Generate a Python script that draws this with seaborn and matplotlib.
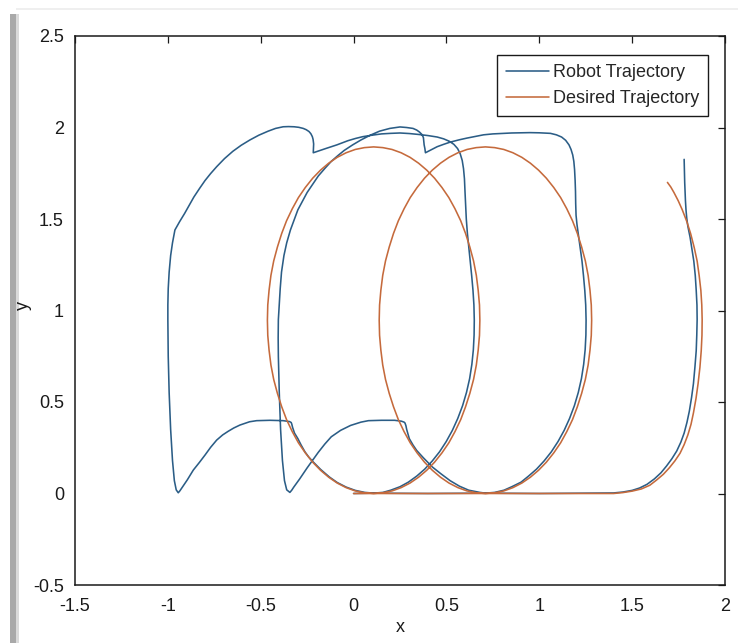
import matplotlib
matplotlib.use("Agg")
import matplotlib.pyplot as plt
import seaborn as sns
import pandas as pd
from matplotlib.patches import Rectangle

# ---------------- data ----------------
series_names = ["Robot Trajectory", "Desired Trajectory"]
series_colors = ["#2b5d86", "#c56a3c"]
x_ticks = [-1.5, -1, -0.5, 0, 0.5, 1, 1.5, 2]
x_tick_labels = ["-1.5", "-1", "-0.5", "0", "0.5", "1", "1.5", "2"]
y_ticks = [-0.5, 0, 0.5, 1, 1.5, 2, 2.5]
y_tick_labels = ["-0.5", "0", "0.5", "1", "1.5", "2", "2.5"]

# desired trajectory: loop 1, loop 2, final rising arc
desired_loop1 = [
    (0.0, 0.0), (0.108, 0.0), (0.158, 0.004), (0.207, 0.014), (0.256, 0.032), (0.304, 0.057),
    (0.350, 0.089), (0.394, 0.127), (0.436, 0.171), (0.476, 0.222), (0.513, 0.277),
    (0.546, 0.338), (0.577, 0.404), (0.603, 0.474), (0.626, 0.547), (0.646, 0.623),
    (0.661, 0.702), (0.671, 0.783), (0.678, 0.864), (0.680, 0.947), (0.678, 1.030),
    (0.671, 1.111), (0.661, 1.192), (0.646, 1.271), (0.626, 1.347), (0.603, 1.421),
    (0.577, 1.490), (0.546, 1.556), (0.513, 1.617), (0.476, 1.672), (0.436, 1.723),
    (0.394, 1.767), (0.350, 1.805), (0.304, 1.837), (0.256, 1.862), (0.207, 1.880),
    (0.158, 1.890), (0.108, 1.894), (0.058, 1.890), (0.009, 1.880), (-0.040, 1.862),
    (-0.088, 1.837), (-0.134, 1.805), (-0.178, 1.767), (-0.220, 1.723), (-0.260, 1.672),
    (-0.297, 1.617), (-0.330, 1.556), (-0.361, 1.490), (-0.387, 1.421), (-0.410, 1.347),
    (-0.430, 1.271), (-0.445, 1.192), (-0.455, 1.111), (-0.462, 1.030), (-0.464, 0.947),
    (-0.462, 0.864), (-0.455, 0.783), (-0.445, 0.702), (-0.430, 0.623), (-0.410, 0.547),
    (-0.387, 0.474), (-0.361, 0.404), (-0.330, 0.338), (-0.297, 0.277), (-0.260, 0.222),
    (-0.220, 0.171), (-0.178, 0.127), (-0.134, 0.089), (-0.088, 0.057), (-0.040, 0.032),
    (0.009, 0.014), (0.058, 0.004), (0.108, 0.0)]
desired_loop2 = [
    (0.40, 0.0), (0.710, 0.0), (0.760, 0.004), (0.809, 0.014), (0.858, 0.032), (0.906, 0.057),
    (0.952, 0.089), (0.996, 0.127), (1.038, 0.171), (1.078, 0.222), (1.115, 0.277),
    (1.148, 0.338), (1.179, 0.404), (1.205, 0.474), (1.228, 0.547), (1.248, 0.623),
    (1.263, 0.702), (1.273, 0.783), (1.280, 0.864), (1.282, 0.947), (1.280, 1.030),
    (1.273, 1.111), (1.263, 1.192), (1.248, 1.271), (1.228, 1.347), (1.205, 1.421),
    (1.179, 1.490), (1.148, 1.556), (1.115, 1.617), (1.078, 1.672), (1.038, 1.723),
    (0.996, 1.767), (0.952, 1.805), (0.906, 1.837), (0.858, 1.862), (0.809, 1.880),
    (0.760, 1.890), (0.710, 1.894), (0.660, 1.890), (0.611, 1.880), (0.562, 1.862),
    (0.514, 1.837), (0.468, 1.805), (0.424, 1.767), (0.382, 1.723), (0.342, 1.672),
    (0.305, 1.617), (0.272, 1.556), (0.241, 1.490), (0.215, 1.421), (0.192, 1.347),
    (0.172, 1.271), (0.157, 1.192), (0.147, 1.111), (0.140, 1.030), (0.138, 0.947),
    (0.140, 0.864), (0.147, 0.783), (0.157, 0.702), (0.172, 0.623), (0.192, 0.547),
    (0.215, 0.474), (0.241, 0.404), (0.272, 0.338), (0.305, 0.277), (0.342, 0.222),
    (0.382, 0.171), (0.424, 0.127), (0.468, 0.089), (0.514, 0.057), (0.562, 0.032),
    (0.611, 0.014), (0.660, 0.004), (0.710, 0.0)]
desired_loop3 = [
    (1.05, 0.0), (1.40, 0.0), (1.45, 0.005), (1.50, 0.013), (1.55, 0.025), (1.595, 0.045),
    (1.632, 0.074), (1.668, 0.105), (1.70, 0.14), (1.73, 0.178), (1.758, 0.22), (1.78, 0.267),
    (1.80, 0.32), (1.817, 0.378), (1.83, 0.44), (1.844, 0.52), (1.855, 0.60), (1.865, 0.69),
    (1.872, 0.78), (1.876, 0.865), (1.877, 0.95), (1.875, 1.03), (1.87, 1.11), (1.861, 1.19),
    (1.85, 1.27), (1.834, 1.345), (1.815, 1.42), (1.794, 1.487), (1.77, 1.55), (1.748, 1.60),
    (1.725, 1.645), (1.708, 1.675), (1.69, 1.70)]

# robot trajectory, in travel order
robot_loop1 = [
    (0.0, 0.0), (0.108, 0.002), (0.158, 0.006), (0.20, 0.018), (0.25, 0.037), (0.295, 0.062),
    (0.34, 0.095), (0.383, 0.133), (0.424, 0.178), (0.463, 0.228), (0.499, 0.284),
    (0.532, 0.345), (0.561, 0.41), (0.587, 0.48), (0.608, 0.552), (0.625, 0.628),
    (0.637, 0.706), (0.645, 0.786), (0.649, 0.866), (0.65, 0.947), (0.648, 1.03),
    (0.643, 1.11), (0.636, 1.19), (0.628, 1.27), (0.62, 1.345), (0.613, 1.42), (0.607, 1.50),
    (0.603, 1.58), (0.60, 1.65), (0.597, 1.72), (0.592, 1.775), (0.585, 1.82), (0.574, 1.857),
    (0.56, 1.885), (0.54, 1.908), (0.515, 1.925), (0.485, 1.938), (0.45, 1.948), (0.40, 1.956),
    (0.35, 1.962), (0.30, 1.967), (0.25, 1.97), (0.20, 1.968), (0.15, 1.965), (0.10, 1.958),
    (0.05, 1.95), (0.01, 1.94), (-0.03, 1.928), (-0.09, 1.905), (-0.15, 1.885), (-0.217, 1.862)]
robot_overshoot1 = [
    (-0.215, 1.91), (-0.218, 1.935), (-0.222, 1.95), (-0.23, 1.966), (-0.24, 1.978),
    (-0.255, 1.988), (-0.271, 1.995), (-0.295, 2.001), (-0.32, 2.004), (-0.35, 2.005),
    (-0.379, 2.004), (-0.42, 1.995), (-0.46, 1.98), (-0.51, 1.958), (-0.558, 1.932),
    (-0.605, 1.903), (-0.65, 1.87), (-0.695, 1.83), (-0.737, 1.786), (-0.77, 1.748),
    (-0.80, 1.71), (-0.83, 1.666), (-0.86, 1.62), (-0.885, 1.575), (-0.91, 1.53),
    (-0.937, 1.485), (-0.962, 1.44), (-0.975, 1.37), (-0.985, 1.30), (-0.993, 1.21),
    (-0.998, 1.12), (-1.0, 1.03), (-1.0, 0.95), (-0.999, 0.85), (-0.998, 0.75), (-0.993, 0.55),
    (-0.985, 0.35), (-0.975, 0.18), (-0.965, 0.07), (-0.955, 0.02), (-0.944, 0.004)]
robot_return1 = [
    (-0.935, 0.015), (-0.925, 0.03), (-0.895, 0.075), (-0.863, 0.128), (-0.83, 0.17),
    (-0.80, 0.21), (-0.77, 0.252), (-0.737, 0.292), (-0.705, 0.32), (-0.675, 0.34),
    (-0.645, 0.358), (-0.612, 0.374), (-0.56, 0.392), (-0.522, 0.398), (-0.45, 0.40),
    (-0.379, 0.398), (-0.345, 0.393), (-0.336, 0.388), (-0.333, 0.38), (-0.328, 0.36),
    (-0.318, 0.33), (-0.30, 0.30), (-0.282, 0.264), (-0.262, 0.228), (-0.242, 0.2),
    (-0.22, 0.175), (-0.178, 0.132), (-0.13, 0.09), (-0.088, 0.06), (-0.04, 0.035),
    (0.009, 0.017), (0.06, 0.006), (0.108, 0.002), (0.40, 0.0), (0.71, 0.002)]
robot_loop2 = [
    (0.76, 0.006), (0.81, 0.018), (0.852, 0.037), (0.902, 0.062), (0.942, 0.095),
    (0.985, 0.133), (1.026, 0.178), (1.065, 0.228), (1.101, 0.284), (1.134, 0.345),
    (1.163, 0.41), (1.189, 0.48), (1.21, 0.552), (1.227, 0.628), (1.239, 0.706),
    (1.247, 0.786), (1.251, 0.866), (1.252, 0.947), (1.25, 1.03), (1.245, 1.11),
    (1.238, 1.19), (1.23, 1.27), (1.22, 1.345), (1.21, 1.42), (1.203, 1.47), (1.198, 1.52),
    (1.196, 1.585), (1.195, 1.65), (1.193, 1.71), (1.19, 1.77), (1.186, 1.815), (1.18, 1.85),
    (1.171, 1.88), (1.16, 1.905), (1.142, 1.93), (1.12, 1.948), (1.092, 1.96), (1.06, 1.968),
    (1.0, 1.971), (0.95, 1.972), (0.85, 1.97), (0.75, 1.965), (0.70, 1.96), (0.65, 1.95),
    (0.61, 1.942), (0.57, 1.933), (0.52, 1.92), (0.485, 1.908), (0.45, 1.895), (0.387, 1.862)]
robot_overshoot2 = [
    (0.384, 1.885), (0.38, 1.905), (0.378, 1.925), (0.376, 1.945), (0.368, 1.962),
    (0.355, 1.975), (0.34, 1.986), (0.32, 1.995), (0.285, 2.0), (0.25, 2.003), (0.195, 1.995),
    (0.14, 1.98), (0.09, 1.958), (0.04, 1.932), (-0.005, 1.905), (-0.05, 1.875),
    (-0.085, 1.846), (-0.12, 1.815), (-0.155, 1.776), (-0.19, 1.735), (-0.22, 1.69),
    (-0.25, 1.645), (-0.275, 1.598), (-0.30, 1.55), (-0.32, 1.495), (-0.34, 1.44),
    (-0.36, 1.37), (-0.375, 1.30), (-0.388, 1.21), (-0.395, 1.12), (-0.40, 1.03),
    (-0.405, 0.95), (-0.406, 0.85), (-0.405, 0.75), (-0.40, 0.55), (-0.393, 0.35),
    (-0.383, 0.18), (-0.372, 0.07), (-0.36, 0.02), (-0.343, 0.006)]
robot_return2 = [
    (-0.333, 0.018), (-0.322, 0.035), (-0.29, 0.08), (-0.25, 0.14), (-0.22, 0.183),
    (-0.19, 0.225), (-0.155, 0.27), (-0.12, 0.31), (-0.07, 0.345), (-0.016, 0.372),
    (0.04, 0.39), (0.08, 0.398), (0.15, 0.40), (0.221, 0.40), (0.258, 0.395), (0.272, 0.39),
    (0.277, 0.385), (0.282, 0.37), (0.286, 0.35), (0.293, 0.325), (0.30, 0.30), (0.32, 0.265),
    (0.34, 0.235), (0.376, 0.195), (0.40, 0.17), (0.424, 0.145), (0.47, 0.108), (0.52, 0.07),
    (0.57, 0.04), (0.62, 0.018), (0.68, 0.006), (0.71, 0.002), (1.0, 0.0), (1.40, 0.003)]
robot_loop3 = [
    (1.45, 0.008), (1.50, 0.017), (1.54, 0.03), (1.58, 0.05), (1.62, 0.08), (1.655, 0.113),
    (1.685, 0.15), (1.714, 0.19), (1.74, 0.232), (1.762, 0.28), (1.78, 0.33), (1.795, 0.388),
    (1.808, 0.45), (1.82, 0.525), (1.83, 0.60), (1.838, 0.69), (1.845, 0.78), (1.848, 0.865),
    (1.85, 0.95), (1.849, 1.03), (1.845, 1.11), (1.84, 1.19), (1.832, 1.27), (1.822, 1.335),
    (1.812, 1.40), (1.80, 1.46), (1.794, 1.505), (1.79, 1.55), (1.787, 1.60), (1.785, 1.65),
    (1.783, 1.70), (1.782, 1.74), (1.78, 1.826)]

# ---------------- build table ----------------
robot_pts = (robot_loop1 + robot_overshoot1 + robot_return1 + robot_loop2
             + robot_overshoot2 + robot_return2 + robot_loop3)
desired_pts = desired_loop1 + desired_loop2 + desired_loop3
rows = []
for name, pts in zip(series_names, [robot_pts, desired_pts]):
    for i, (px, py) in enumerate(pts):
        rows.append({"series": name, "step": i, "x": px, "y": py})
df = pd.DataFrame(rows)

# ---------------- style ----------------
sns.set_theme(style="white")
plt.rcParams["font.family"] = ["Liberation Sans", "DejaVu Sans"]

W, H = 738, 643
fig = plt.figure(figsize=(W / 100, H / 100), dpi=100)
fig.patch.set_facecolor("white")

# screenshot-like frame on the left / top
fig.patches.append(Rectangle((10 / W, 0), 6 / W, 1 - 14 / H, transform=fig.transFigure,
                             facecolor="#a9a9a9", edgecolor="none", zorder=-2))
fig.patches.append(Rectangle((16 / W, 0), 3 / W, 1 - 14 / H, transform=fig.transFigure,
                             facecolor="#dadada", edgecolor="none", zorder=-2))
fig.patches.append(Rectangle((16 / W, 1 - 10 / H), 1 - 16 / W, 2 / H, transform=fig.transFigure,
                             facecolor="#efefef", edgecolor="none", zorder=-2))

ax = fig.add_axes([75 / W, 1 - 585 / H, 650 / W, 549 / H])
sns.lineplot(data=df, x="x", y="y", hue="series", hue_order=series_names,
             palette=series_colors, sort=False, estimator=None, linewidth=1.15, ax=ax)

ax.set_xlim(-1.5, 2)
ax.set_ylim(-0.5, 2.5)
ax.set_xticks(x_ticks)
ax.set_xticklabels(x_tick_labels)
ax.set_yticks(y_ticks)
ax.set_yticklabels(y_tick_labels)
ax.tick_params(axis="both", direction="in", length=5, width=0.9, top=True, right=True,
               labelsize=13, colors="#1a1a1a")
ax.tick_params(axis="x", pad=9.5)
ax.tick_params(axis="y", pad=8)
for s in ax.spines.values():
    s.set_visible(True)
    s.set_color("#1a1a1a")
    s.set_linewidth(1.1)

ax.set_xlabel("x", fontsize=13, color="#1a1a1a")
ax.set_ylabel("y", fontsize=13, color="#1a1a1a")
ax.xaxis.set_label_coords(0.5, -0.062)
ax.yaxis.set_label_coords(-0.066, 0.51)

handles, labels = ax.get_legend_handles_labels()
leg = ax.legend(handles, labels, loc="upper right", bbox_to_anchor=(0.974, 0.965),
                frameon=True, fancybox=False, edgecolor="#1a1a1a", framealpha=1,
                fontsize=13, handlelength=2.4, handletextpad=0.2, borderpad=0.5,
                labelspacing=0.5, borderaxespad=0)
leg.get_frame().set_linewidth(1.0)

fig.savefig("out.png", dpi=100, facecolor="white")
